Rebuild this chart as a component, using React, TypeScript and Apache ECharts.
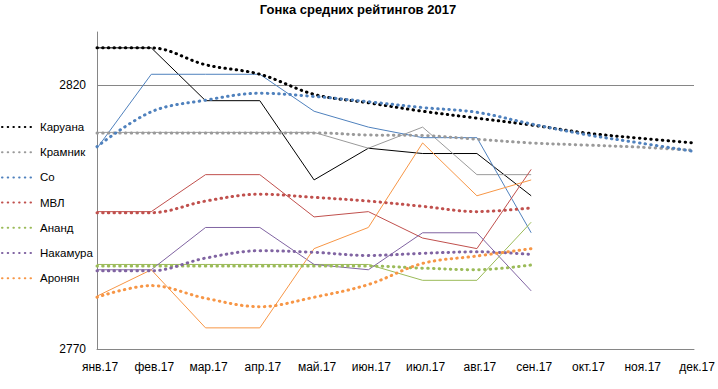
import React, { useEffect, useRef } from "react";
import * as echarts from "echarts";

const months = ["янв.17", "фев.17", "мар.17", "апр.17", "май.17", "июн.17", "июл.17", "авг.17", "сен.17", "окт.17", "ноя.17", "дек.17"];

const players = ["Каруана", "Крамник", "Со", "МВЛ", "Ананд", "Накамура", "Аронян"];
const colors = ["#000000", "#9a9a9a", "#4f81bd", "#c0504d", "#9bbb59", "#8064a2", "#f79646"];

// monthly ratings (thin solid lines)
const caruana = [2827, 2827, 2817, 2817, 2802, 2808, 2807, 2807, 2799];
const kramnik = [2811, 2811, 2811, 2811, 2811, 2808, 2812, 2803, 2803];
const so = [2808, 2822, 2822, 2822, 2815, 2812, 2810, 2810, 2792];
const mvl = [2796, 2796, 2803, 2803, 2795, 2796, 2791, 2789, 2804];
const anand = [2786, 2786, 2786, 2786, 2786, 2786, 2783, 2783, 2794];
const nakamura = [2785, 2785, 2793, 2793, 2786, 2785, 2792, 2792, 2781];
const aronian = [2780, 2785, 2774, 2774, 2789, 2793, 2809, 2799, 2802];

// average-rating curves (dotted lines)
const caruanaAvg = [2827, 2827, 2823.8, 2822, 2818.2, 2816.6, 2815, 2813.7, 2812.4, 2810.9, 2809.9, 2809];
const kramnikAvg = [2810.9, 2810.9, 2810.9, 2810.9, 2810.9, 2810.5, 2810.4, 2809.7, 2809, 2808.6, 2808.2, 2807.6];
const soAvg = [2808.3, 2814.9, 2817.1, 2818.4, 2817.8, 2816.8, 2815.7, 2814.8, 2812.6, 2810.6, 2809, 2807.4];
const mvlAvg = [2795.8, 2795.8, 2798, 2799.3, 2798.7, 2798, 2797, 2796, 2796.7, null, null, null];
const anandAvg = [2785.7, 2785.7, 2785.7, 2785.7, 2785.7, 2785.7, 2785.3, 2785, 2785.9, null, null, null];
const nakamuraAvg = [2784.8, 2784.8, 2787.2, 2788.6, 2788.3, 2787.7, 2788.1, 2788.4, 2787.9, null, null, null];
const aronianAvg = [2779.8, 2782, 2779.6, 2778, 2779.8, 2782.2, 2786.2, 2787.6, 2789, null, null, null];

const actual = [caruana, kramnik, so, mvl, anand, nakamura, aronian];
const averages = [caruanaAvg, kramnikAvg, soAvg, mvlAvg, anandAvg, nakamuraAvg, aronianAvg];

const FONT = "Liberation Sans";

export default function App() {
  const ref = useRef<HTMLDivElement>(null);
  useEffect(() => {
    if (!ref.current) return;
    const chart = echarts.init(ref.current, undefined, { renderer: "svg" });
    const solidSeries = players.map((p, i) => ({
      name: p + " (месяц)",
      type: "line",
      data: actual[i],
      symbol: "none",
      smooth: false,
      lineStyle: { color: colors[i], width: 1 },
      itemStyle: { color: colors[i] },
      z: 2,
    }));
    const dottedSeries = players.map((p, i) => ({
      name: p,
      type: "line",
      data: averages[i],
      symbol: "none",
      smooth: 0.35,
      lineStyle: { color: colors[i], width: 3, type: [0.5, 5.2], cap: "round" },
      itemStyle: { color: colors[i] },
      z: 3,
    }));
    chart.setOption({
      animation: false,
      textStyle: { fontFamily: FONT },
      title: {
        text: "Гонка средних рейтингов 2017",
        left: 358,
        textAlign: "center",
        top: 3,
        padding: 0,
        textStyle: { fontFamily: FONT, fontSize: 13, fontWeight: "bold", color: "#000" },
      },
      legend: {
        data: players,
        orient: "vertical",
        left: 1,
        top: 119,
        padding: 0,
        itemWidth: 33,
        itemHeight: 14,
        itemGap: 9.2,
        itemStyle: { opacity: 0 },
        textStyle: { fontFamily: FONT, fontSize: 11.5, color: "#000", lineHeight: 16 },
      },
      grid: { left: 97, right: 24, top: 32, bottom: 40, containLabel: false },
      xAxis: {
        type: "category",
        data: months,
        boundaryGap: false,
        axisLine: { show: true, lineStyle: { color: "#868686", width: 1 } },
        axisTick: { show: false },
        axisLabel: { fontFamily: FONT, fontSize: 12, color: "#000", margin: 12, padding: [0, 0, 0, 6] },
        splitLine: { show: false },
      },
      yAxis: {
        type: "value",
        min: 2770,
        max: 2830,
        interval: 50,
        axisLine: { show: true, lineStyle: { color: "#868686", width: 1 } },
        axisTick: { show: false },
        axisLabel: {
          fontFamily: FONT,
          fontSize: 12,
          color: "#000",
          margin: 11,
          showMaxLabel: false,
          formatter: (v: number) => String(v),
        },
        splitLine: { show: true, showMinLine: false, showMaxLine: false, lineStyle: { color: "#868686", width: 1 } },
      },
      series: [...solidSeries, ...dottedSeries],
    });
    return () => chart.dispose();
  }, []);
  return <div ref={ref} style={{ position: "fixed", left: 0, top: 0, width: 718, height: 389, background: "#fff" }} />;
}
